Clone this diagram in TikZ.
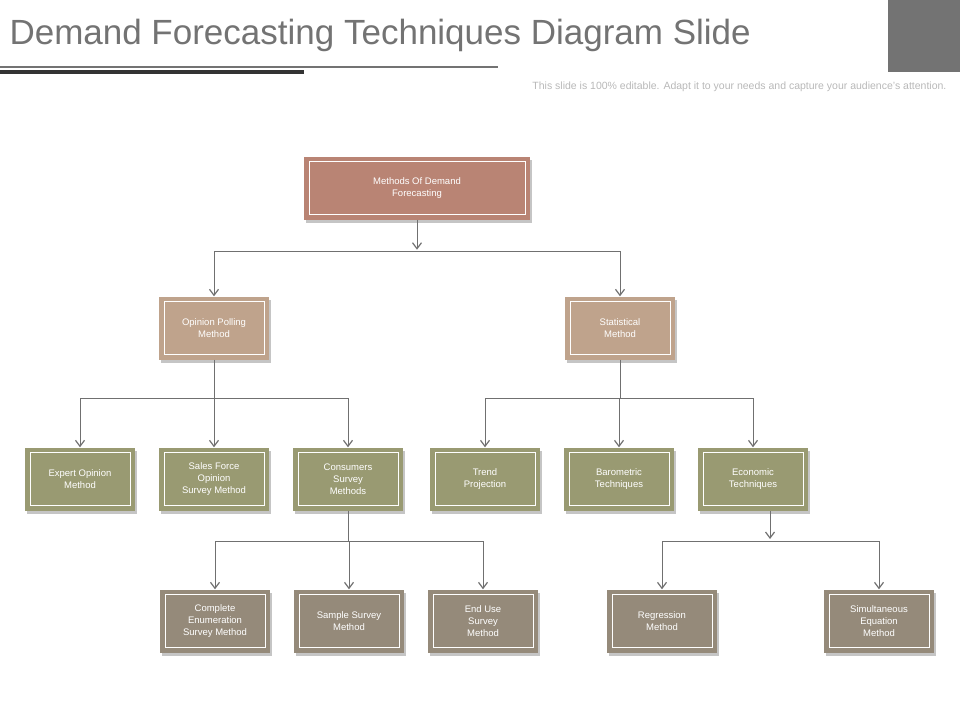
\documentclass[tikz,border=0pt]{standalone}
\usepackage{fontspec}
\setmainfont{Liberation Sans}
\usetikzlibrary{arrows.meta,shadows}
\definecolor{topc}{HTML}{B98474}
\definecolor{midc}{HTML}{BFA38C}
\definecolor{olive}{HTML}{999A72}
\definecolor{greyb}{HTML}{958A7A}
\definecolor{linec}{HTML}{707070}
\tikzset{
  box/.style={minimum width=110pt,minimum height=63pt,inner sep=0pt,align=center,
    text=white,font=\fontsize{9.5}{12}\selectfont,
    drop shadow={shadow xshift=1.5pt,shadow yshift=-3pt,fill=black!45,opacity=.5},
    path picture={\draw[white,line width=.8pt]
      ([shift={(5pt,5pt)}]path picture bounding box.south west) rectangle
      ([shift={(-5pt,-5pt)}]path picture bounding box.north east);}},
  link/.style={linec,line width=1pt},
  arr/.style={link,-{Straight Barb[length=6pt,width=9pt,line width=1.2pt]}}
}
\begin{document}
\begin{tikzpicture}[x=1pt,y=-1pt]
  \useasboundingbox(0,0)rectangle(960,720);
  % title
  \node[anchor=west,text=black!55,font=\fontsize{35}{40}\selectfont] (title) at (6,35)
    {Demand Forecasting Techniques Diagram Slide};
  \fill[black!55] (888,0) rectangle (960,72);
  \fill[black!55] (0,66) rectangle (498,68);
  \fill[black!80] (0,70) rectangle (304,74);
  \node[anchor=east,text=black!28,font=\fontsize{10.5}{12}\selectfont] (sub) at (950,87)
    {This slide is 100\% editable. Adapt it to your needs and capture your audience's attention.};
  % boxes
  \node[box,fill=topc,minimum width=226pt] (top) at (417,188) {Methods Of Demand\\Forecasting};
  \node[box,fill=midc] (opin) at (214,328) {Opinion Polling\\Method};
  \node[box,fill=midc] (stat) at (620,328) {Statistical\\Method};
  \node[box,fill=olive] (expert) at (80,479) {Expert Opinion\\Method};
  \node[box,fill=olive] (sales) at (214,479) {Sales Force\\Opinion\\Survey Method};
  \node[box,fill=olive] (cons) at (348,479) {Consumers\\Survey\\Methods};
  \node[box,fill=olive] (trend) at (485,479) {Trend\\Projection};
  \node[box,fill=olive] (baro) at (619,479) {Barometric\\Techniques};
  \node[box,fill=olive] (econ) at (753,479) {Economic\\Techniques};
  \node[box,fill=greyb] (compl) at (215,621) {Complete\\Enumeration\\Survey Method};
  \node[box,fill=greyb] (sample) at (349,621) {Sample Survey\\Method};
  \node[box,fill=greyb] (enduse) at (483,621) {End Use\\Survey\\Method};
  \node[box,fill=greyb] (regr) at (662,621) {Regression\\Method};
  \node[box,fill=greyb] (simul) at (879,621) {Simultaneous\\Equation\\Method};
  % connectors
  \draw[arr] (top.south) -- ++(0,30);
  \draw[link] (opin.north|-0,251) -- (stat.north|-0,251);
  \foreach \n in {opin,stat} \draw[arr] (\n.north|-0,251) -- (\n.north);
  \draw[link] (opin.south) -- (opin.south|-0,398);
  \draw[link] (expert.north|-0,398) -- (cons.north|-0,398);
  \foreach \n in {expert,sales,cons} \draw[arr] (\n.north|-0,398) -- (\n.north);
  \draw[link] (stat.south) -- (stat.south|-0,398);
  \draw[link] (trend.north|-0,398) -- (econ.north|-0,398);
  \foreach \n in {trend,baro,econ} \draw[arr] (\n.north|-0,398) -- (\n.north);
  \draw[link] (cons.south) -- (cons.south|-0,541);
  \draw[link] (compl.north|-0,541) -- (enduse.north|-0,541);
  \foreach \n in {compl,sample,enduse} \draw[arr] (\n.north|-0,541) -- (\n.north);
  \draw[arr] (770,511) -- (770,539);
  \draw[link] (regr.north|-0,541) -- (simul.north|-0,541);
  \foreach \n in {regr,simul} \draw[arr] (\n.north|-0,541) -- (\n.north);
\end{tikzpicture}
\end{document}
